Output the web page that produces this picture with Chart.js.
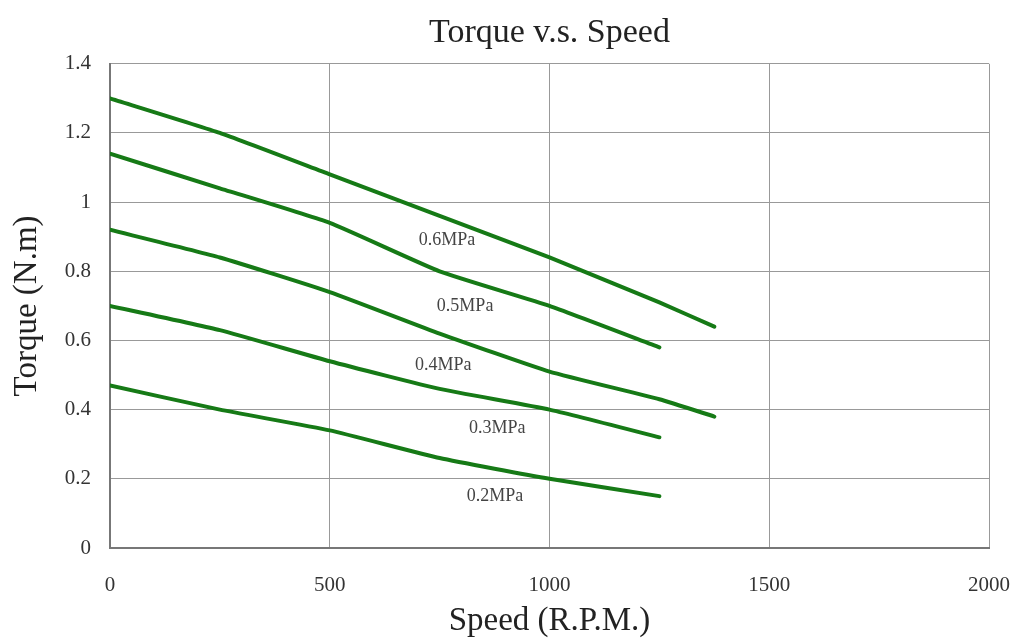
<!DOCTYPE html>
<html>
<head>
<meta charset="utf-8">
<script src="https://cdn.jsdelivr.net/npm/chart.js@4"></script>
<style>
  html, body { margin: 0; padding: 0; background: #fff; }
  #wrap { width: 1014px; height: 642px; }
</style>
</head>
<body>
<div id="wrap"><canvas id="grafica"></canvas></div>
<script>
// datos
const velLarga = [0, 250, 500, 750, 1000, 1250, 1375];
const velCorta = [0, 250, 500, 750, 1000, 1250];
const par06 = [1.30, 1.20, 1.08, 0.96, 0.84, 0.71, 0.64];
const par05 = [1.14, 1.04, 0.94, 0.80, 0.70, 0.58];
const par04 = [0.92, 0.84, 0.74, 0.62, 0.51, 0.43, 0.38];
const par03 = [0.70, 0.63, 0.54, 0.46, 0.40, 0.32];
const par02 = [0.47, 0.40, 0.34, 0.26, 0.20, 0.15];

// etiquetas de presion (texto, velocidad, par)
const etiquetas = ['0.6MPa', '0.5MPa', '0.4MPa', '0.3MPa', '0.2MPa'];
const etiquetaVel = [767, 808, 758, 881, 876];
const etiquetaPar = [0.89, 0.70, 0.528, 0.346, 0.15];

const VERDE = '#167a16';
const FUENTE = "'Liberation Serif', 'Times New Roman', serif";

function puntos(xs, ys) {
    return ys.map((y, i) => ({ x: xs[i], y: y }));
}

function serie(nombre, xs, ys) {
    return {
        label: nombre,
        data: puntos(xs, ys),
        borderColor: VERDE,
        borderWidth: 4,
        borderCapStyle: 'round',
        pointRadius: 0,
        tension: 0.15,
        fill: false
    };
}

// dibuja las etiquetas MPa en coordenadas de datos
const pluginEtiquetas = {
    id: 'etiquetasPresion',
    afterDatasetsDraw(chart) {
        const ctx = chart.ctx;
        const sx = chart.scales.x, sy = chart.scales.y;
        ctx.save();
        ctx.font = '18px ' + FUENTE;
        ctx.fillStyle = '#444';
        ctx.textAlign = 'center';
        ctx.textBaseline = 'middle';
        etiquetas.forEach((t, i) => {
            ctx.fillText(t, sx.getPixelForValue(etiquetaVel[i]), sy.getPixelForValue(etiquetaPar[i]));
        });
        ctx.restore();
    }
};

const fondoBlanco = {
    id: 'fondo',
    beforeDraw(chart) {
        const ctx = chart.ctx;
        ctx.save();
        ctx.fillStyle = '#fff';
        ctx.fillRect(0, 0, chart.width, chart.height);
        ctx.restore();
    }
};

new Chart(document.getElementById('grafica'), {
    type: 'line',
    data: {
        datasets: [
            serie('0.6MPa', velLarga, par06),
            serie('0.5MPa', velCorta, par05),
            serie('0.4MPa', velLarga, par04),
            serie('0.3MPa', velCorta, par03),
            serie('0.2MPa', velCorta, par02)
        ]
    },
    options: {
        responsive: true,
        maintainAspectRatio: false,
        animation: false,
        layout: { padding: { left: 0, right: 25, top: 0, bottom: 0 } },
        plugins: {
            legend: { display: false },
            tooltip: { enabled: false },
            title: {
                display: true,
                fullSize: false,
                text: 'Torque v.s. Speed',
                color: '#222',
                font: { family: FUENTE, size: 34, weight: 'normal' },
                padding: { top: 13, bottom: 10 }
            }
        },
        scales: {
            x: {
                type: 'linear',
                min: 0, max: 2000,
                afterFit: s => {
                    s.height = 94;
                    // el padding de las marcas no debe estrechar el area
                    s.paddingLeft = 0;
                    s.paddingRight = 0;
                },
                ticks: {
                    stepSize: 500,
                    padding: 25,
                    color: '#333',
                    font: { family: FUENTE, size: 21 },
                    callback: v => String(v)
                },
                grid: { color: '#999', lineWidth: 1, drawTicks: false },
                border: { color: '#777', width: 2 },
                title: {
                    display: true,
                    text: 'Speed (R.P.M.)',
                    color: '#222',
                    font: { family: FUENTE, size: 33 },
                    padding: { top: 0, bottom: 1 }
                }
            },
            y: {
                min: 0, max: 1.4,
                afterFit: s => { s.width = 110; },
                ticks: {
                    stepSize: 0.2,
                    padding: 19,
                    color: '#333',
                    font: { family: FUENTE, size: 21 },
                    callback: v => String(+v.toFixed(1))
                },
                grid: { color: '#999', lineWidth: 1, drawTicks: false },
                border: { color: '#777', width: 2 },
                title: {
                    display: true,
                    text: 'Torque (N.m)',
                    color: '#222',
                    font: { family: FUENTE, size: 33 },
                    padding: { top: 8, bottom: 0 }
                }
            }
        }
    },
    plugins: [fondoBlanco, pluginEtiquetas]
});
</script>
</body>
</html>
